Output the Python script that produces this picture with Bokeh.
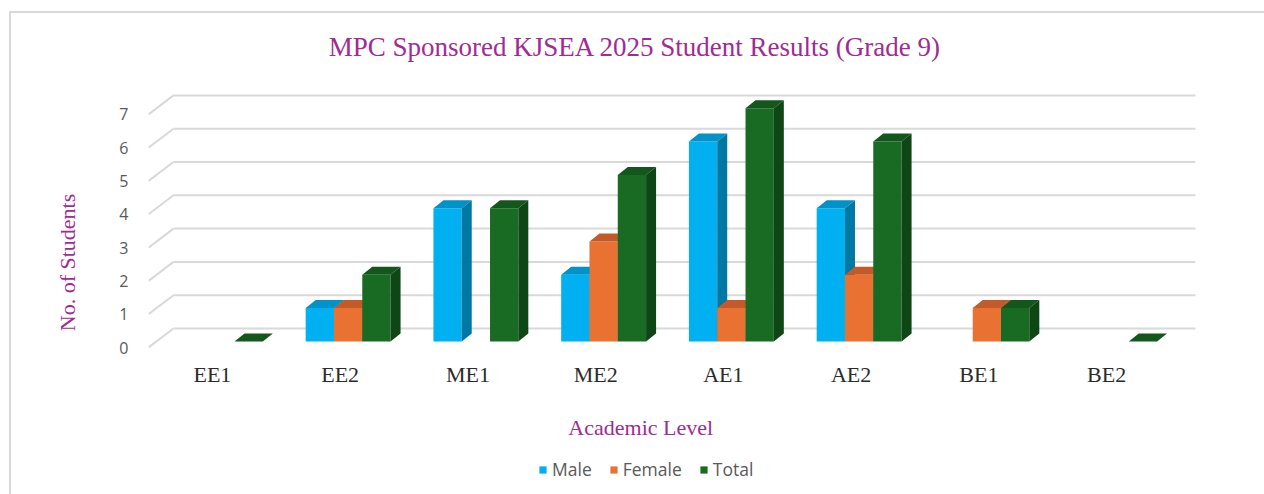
import math
from bokeh.plotting import figure
from bokeh.models import Range1d, FixedTicker, Legend, LegendItem, Label
from bokeh.core.properties import value
from bokeh.embed import file_html
from bokeh.resources import INLINE

# ---------------- data ----------------
categories = ["EE1", "EE2", "ME1", "ME2", "AE1", "AE2", "BE1", "BE2"]
male = [None, 1, 4, 2, 6, 4, None, None]
female = [None, 1, None, 3, 1, 2, 1, None]
total = [0, 2, 4, 5, 7, 6, 1, 0]
series_names = ["Male", "Female", "Total"]
y_ticks = [0, 1, 2, 3, 4, 5, 6, 7]
title_text = "MPC Sponsored KJSEA 2025  Student Results (Grade 9)"
x_title = "Academic  Level"
y_title = "No. of Students"

# ---------------- styles ----------------
front_colors = ["#00B0F0", "#E97132", "#196B24"]
top_colors = ["#0092C8", "#C25B27", "#14571D"]
side_colors = ["#0078A3", "#A94E20", "#0F4616"]
purple = "#A02B93"
grid_color = "#D9D9D9"

# geometry (pixel scale of one category / one unit)
PX_X = 127.75
PX_Y = 33.3
FRAME_L, FRAME_R, FRAME_T, FRAME_B = 148, 1200, 30, 494
ZERO_PX = 347
DX = 25 / PX_X          # floor depth, x
DY = 19 / PX_Y          # floor depth, y
F = 0.32                # depth fraction of bar front faces
BW = 28.3 / PX_X        # bar width
BDX = 10 / PX_X         # bar depth x
BDY = 8 / PX_Y          # bar depth y


def px_y(py):
    return (ZERO_PX - py) / PX_Y


def px_x(px):
    return (px - FRAME_L) / PX_X


W, H = 1264, 494
p = figure(width=W, height=H, output_backend="svg", toolbar_location=None,
           x_axis_location=None,
           x_range=Range1d(0, px_x(FRAME_R)),
           y_range=Range1d(px_y(FRAME_B), px_y(FRAME_T)),
           min_border_left=FRAME_L, min_border_right=W - FRAME_R,
           min_border_top=FRAME_T, min_border_bottom=H - FRAME_B)
p.outline_line_color = None
p.border_fill_color = None
p.background_fill_color = None
p.xgrid.visible = False
p.ygrid.visible = False
p.styles = {
    "background-color": "white",
    "background-image": "linear-gradient(#D9D9D9,#D9D9D9), linear-gradient(#D9D9D9,#D9D9D9)",
    "background-size": "2px 100%, 100% 2px",
    "background-position": "9px 11px, 9px 11px",
    "background-repeat": "no-repeat",
}

# title
p.add_layout(Label(x=px_x(638), y=px_y(46), text=title_text,
                   text_font="Liberation Serif", text_font_size="27px", text_color=purple,
                   text_align="center", text_baseline="middle"))

# gridlines (back wall + left wall diagonals)
n = len(categories)
back_xs = [[DX, n + DX] for _ in y_ticks]
back_ys = [[t + DY, t + DY] for t in y_ticks]
diag_xs = [[0, DX] for _ in y_ticks]
diag_ys = [[t, t + DY] for t in y_ticks]
p.multi_line(back_xs + diag_xs, back_ys + diag_ys, line_color=grid_color, line_width=2)

# bars
legend_items = []
for s, vals in enumerate([male, female, total]):
    lefts, rights, bottoms, tops = [], [], [], []
    top_xs, top_ys, side_xs, side_ys = [], [], [], []
    for i, v in enumerate(vals):
        if v is None:
            continue
        l = i + 0.5 + F * DX - 1.5 * BW + s * BW
        r = l + BW
        b = F * DY
        t = b + v
        lefts.append(l); rights.append(r); bottoms.append(b); tops.append(t)
        top_xs.append([l, r, r + BDX, l + BDX])
        top_ys.append([t, t, t + BDY, t + BDY])
        side_xs.append([r, r + BDX, r + BDX, r])
        side_ys.append([b, b + BDY, t + BDY, t])
    fr = p.quad(left=lefts, right=rights, bottom=bottoms, top=tops,
                fill_color=front_colors[s], line_color=None)
    p.patches(top_xs, top_ys, fill_color=top_colors[s], line_color=None)
    p.patches(side_xs, side_ys, fill_color=side_colors[s], line_color=None)
    legend_items.append(LegendItem(label=series_names[s], renderers=[fr]))

# y axis
p.yaxis.ticker = FixedTicker(ticks=y_ticks)
p.yaxis.axis_line_color = None
p.yaxis.major_tick_line_color = None
p.yaxis.minor_tick_line_color = None
p.yaxis.major_label_text_font = "Open Sans"
p.yaxis.major_label_text_font_size = "16px"
p.yaxis.major_label_text_color = "#595959"
p.yaxis.major_label_standoff = 14
p.yaxis.axis_label = y_title
p.yaxis.axis_label_text_font = "Liberation Serif"
p.yaxis.axis_label_text_font_size = "22px"
p.yaxis.axis_label_text_font_style = "normal"
p.yaxis.axis_label_text_color = purple
p.yaxis.axis_label_standoff = 36

# category labels along the front floor edge
x_ticks = [i + 0.5 for i in range(n)]
p.text(x=x_ticks, y=[px_y(374)] * n, text=categories,
       text_font=value("Liberation Serif"), text_font_size="22px",
       text_color="#2B2B2B", text_align="center", text_baseline="middle")

# x axis title
p.add_layout(Label(x=px_x(643), y=px_y(427), text=x_title,
                   text_font="Liberation Serif", text_font_size="22px", text_color=purple,
                   text_align="center", text_baseline="middle"))

legend = Legend(items=legend_items, orientation="horizontal", location=(390, 13),
                label_text_font="Open Sans", label_text_font_size="17.5px",
                label_text_color="#595959", glyph_width=9, glyph_height=9,
                label_height=18, label_standoff=5, spacing=17, padding=0, margin=0,
                border_line_color=None, background_fill_alpha=0)
p.add_layout(legend, "center")

open("out.html", "w").write(file_html(p, INLINE))
